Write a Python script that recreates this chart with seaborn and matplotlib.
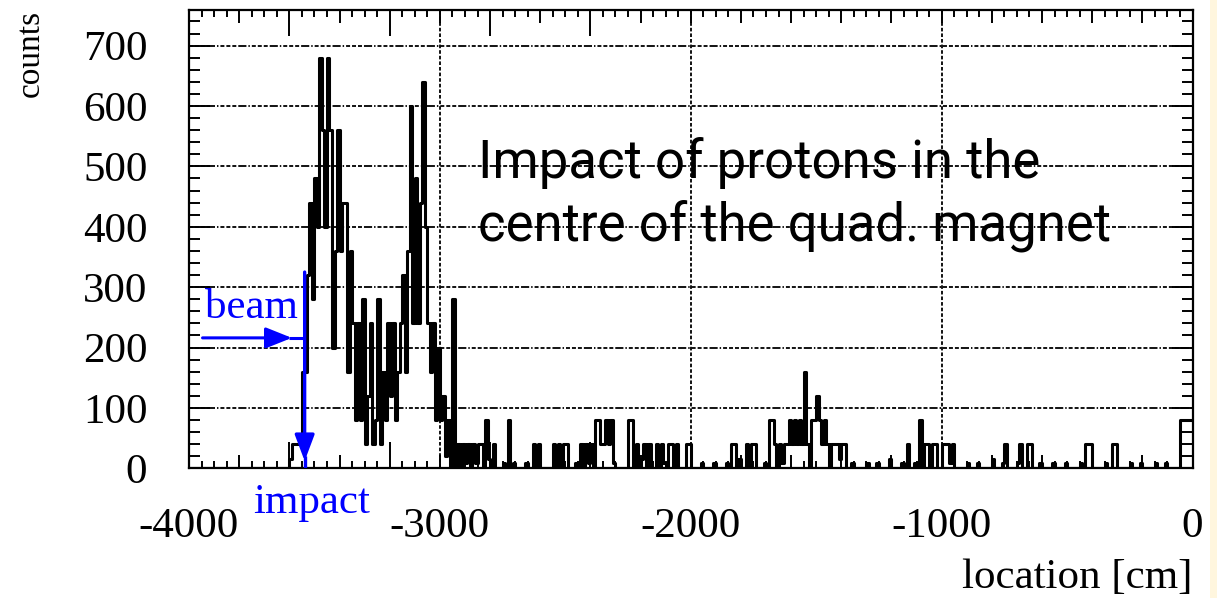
import numpy as np
import pandas as pd
import matplotlib
matplotlib.use("Agg")
import matplotlib.pyplot as plt
import seaborn as sns
from matplotlib.ticker import MultipleLocator, FuncFormatter
from matplotlib.patches import Rectangle

# ---------------- data ----------------
bin_width_cm = 10
x_range_cm = [-4000, 0]

# dense region: consecutive 10 cm bins starting at -3600 cm
peak_start_cm = -3600
peak_counts = [
    16, 40, 40, 40, 40, 160, 160, 320, 440, 280,
    480, 400, 680, 560, 400, 680, 560, 200, 360, 560,
    360, 440, 440, 160, 360, 240, 80, 240, 80, 280,
    40, 120, 240, 40, 80, 280, 40, 160, 80, 240,
    120, 240, 80, 160, 240, 320, 160, 360, 600, 240,
    480, 240, 440, 640, 400, 240, 160, 240, 80, 200,
    80, 120, 20, 80, 0, 280, 0, 40, 0, 40,
    8, 40, 0, 40, 8, 40, 40, 0, 80, 16,
    0, 40,
]

# sparse tail: left edge of each non-empty bin (cm) and its count
tail_loc_cm = [
    -2750, -2730, -2710, -2660, -2630, -2610, -2550, -2530, -2510, -2500,
    -2460, -2440, -2420, -2410, -2400, -2380, -2370, -2360, -2350, -2340,
    -2330, -2320, -2310, -2250, -2240, -2220, -2200, -2190, -2170, -2140,
    -2120, -2110, -2090, -2080, -2060, -2020, -2010, -1960, -1910, -1860,
    -1840, -1830, -1810, -1780, -1760, -1750, -1710, -1690, -1680, -1670,
    -1650, -1640, -1630, -1620, -1610, -1600, -1590, -1580, -1570, -1560,
    -1550, -1540, -1520, -1510, -1500, -1490, -1480, -1470, -1460, -1440,
    -1430, -1420, -1410, -1400, -1390, -1360, -1300, -1260, -1210, -1160,
    -1140, -1110, -1090, -1070, -1060, -1040, -1030, -1000, -990, -980,
    -970, -960, -900, -860, -800, -760, -750, -700, -690, -660,
    -650, -610, -560, -510, -450, -430, -420, -410, -350, -320,
    -310, -250, -210, -150, -110, -50, -40, -30, -20, -10,
]
tail_counts = [
    8, 80, 8, 8, 40, 40, 40, 40, 40, 40,
    8, 40, 40, 8, 40, 80, 80, 40, 40, 80,
    40, 80, 8, 80, 80, 40, 16, 40, 40, 40,
    40, 8, 40, 40, 40, 40, 40, 8, 8, 8,
    40, 40, 16, 40, 40, 40, 8, 80, 80, 40,
    40, 8, 40, 40, 80, 40, 80, 40, 80, 40,
    160, 40, 80, 80, 120, 80, 40, 80, 40, 40,
    40, 40, 16, 40, 40, 8, 8, 8, 16, 8,
    40, 8, 80, 40, 40, 40, 40, 40, 40, 40,
    8, 40, 8, 8, 16, 8, 40, 8, 40, 40,
    40, 8, 8, 8, 8, 40, 40, 40, 8, 40,
    40, 8, 8, 8, 8, 80, 80, 80, 80, 80,
]

x_label_ticks = [-4000, -3000, -2000, -1000, 0]
y_label_ticks = [0, 100, 200, 300, 400, 500, 600, 700]

annotation_lines = ["Impact of protons in the", "centre of the quad. magnet"]
beam_label = "beam"
impact_label = "impact"
beam_level = 216          # counts level of the horizontal "beam" arrow
impact_location = -3539   # cm, position of the vertical "impact" arrow

# ---------------- build histogram table ----------------
edges = np.arange(x_range_cm[0], x_range_cm[1] + bin_width_cm, bin_width_cm)
counts = np.zeros(len(edges) - 1)
i0 = (peak_start_cm - x_range_cm[0]) // bin_width_cm
counts[i0:i0 + len(peak_counts)] = peak_counts
for loc, c in zip(tail_loc_cm, tail_counts):
    counts[(loc - x_range_cm[0]) // bin_width_cm] = c
centers = edges[:-1] + bin_width_cm / 2
df = pd.DataFrame({"location": centers, "counts": counts})

# ---------------- style ----------------
sns.set_theme(style="white")
plt.rcParams["font.family"] = ["Liberation Serif", "DejaVu Serif"]
plt.rcParams["axes.edgecolor"] = "black"

W, H = 1217, 598
fig = plt.figure(figsize=(W / 100, H / 100), dpi=100)
fig.patch.set_facecolor("white")
# pale cream strip at the far right edge of the slide
fig.patches.append(Rectangle((1210 / W, 0), 1 - 1210 / W, 1, transform=fig.transFigure,
                             facecolor="#FFF6DE", edgecolor="none", zorder=0))

ax = fig.add_axes([189 / W, 1 - 468.3 / H, (1192.5 - 189) / W, (468.3 - 10) / H])
ax.set_facecolor("white")

sns.histplot(data=df, x="location", weights="counts", bins=edges.tolist(),
             element="step", fill=False, color="black", linewidth=2.2, ax=ax, zorder=3)

ax.set_xlim(x_range_cm)
ax.set_ylim(0, 759)

# grid lines (ROOT-like dash pattern)
hdash = (0, (2.2, 1.1, 2.2, 1.1, 2.2, 1.1, 4.5, 1.1, 0.8, 1.1))
for yv in y_label_ticks[1:]:
    ax.axhline(yv, color="black", lw=1.3, ls=hdash, zorder=1)
for xv in x_label_ticks[1:-1]:
    ax.axvline(xv, color="black", lw=1.3, ls=(0, (2.0, 1.1)), zorder=1)

# ticks
ax.xaxis.set_major_locator(MultipleLocator(200))
ax.xaxis.set_minor_locator(MultipleLocator(50))
ax.xaxis.set_major_formatter(FuncFormatter(
    lambda v, p: f"{int(round(v))}" if abs(v) % 1000 < 1e-6 else ""))
ax.yaxis.set_major_locator(MultipleLocator(100))
ax.yaxis.set_minor_locator(MultipleLocator(20))
ax.tick_params(axis="both", which="both", direction="in", top=True, right=True,
               bottom=True, left=True, color="black", width=1.4, labelsize=31,
               labelcolor="black")
ax.tick_params(axis="x", which="major", length=9.5, pad=28)
ax.tick_params(axis="x", which="minor", length=4.7)
ax.tick_params(axis="y", which="major", length=15, pad=30)
ax.tick_params(axis="y", which="minor", length=7.7)
for t in ax.xaxis.get_major_ticks():
    if abs(t.get_loc()) % 1000 < 1e-6:
        t.tick1line.set_markersize(19)
        t.tick2line.set_markersize(19)

for sp in ax.spines.values():
    sp.set_visible(True)
    sp.set_color("black")
    sp.set_linewidth(1.6)
    sp.set_zorder(5)

# axis titles
ax.set_xlabel("location [cm]", fontsize=31, color="black")
ax.xaxis.set_label_coords(1.0, (468.3 - 578) / 458.3)
ax.xaxis.label.set_ha("right")
ax.xaxis.label.set_va("center")
ax.set_ylabel("counts", fontsize=24, color="black")
ax.yaxis.label.set_rotation_mode("default")
ax.yaxis.label.set_ha("center")
ax.yaxis.label.set_va("top")
ax.yaxis.set_label_coords((31 - 189) / 1003.5, 1.0)

# annotation text (sans serif, black)
ax.text(-2850, 481, annotation_lines[0], fontsize=38, family=["Roboto", "DejaVu Sans"],
        ha="left", va="baseline", color="black", zorder=6)
ax.text(-2850, 378, annotation_lines[1], fontsize=38, family=["Roboto", "DejaVu Sans"],
        ha="left", va="baseline", color="black", zorder=6)

# blue beam / impact arrows
blue = "#0000FF"
ax.annotate("", xy=(-3590, beam_level), xytext=(-3946, beam_level),
            arrowprops=dict(arrowstyle="-|>,head_length=0.8,head_width=0.32",
                            mutation_scale=20, color=blue, lw=2.2, shrinkA=0, shrinkB=0),
            zorder=7)
ax.plot([-3600, impact_location], [beam_level, beam_level], color=blue, lw=2.2, zorder=7,
        solid_capstyle="butt")
ax.annotate("", xy=(impact_location, 12), xytext=(impact_location, 325),
            arrowprops=dict(arrowstyle="-|>,head_length=0.8,head_width=0.3",
                            mutation_scale=20, color=blue, lw=2.4, shrinkA=0, shrinkB=0),
            zorder=7)
ax.plot([impact_location, impact_location], [0, 20], color=blue, lw=2.4, zorder=7,
        solid_capstyle="butt")
ax.text(-3938, 249, beam_label, fontsize=31, color=blue, ha="left", va="baseline", zorder=7)
ax.text(-3511, (468.3 - 513) / 458.3, impact_label, fontsize=31, color=blue,
        ha="center", va="baseline", transform=ax.get_xaxis_transform(), zorder=7)

fig.savefig("out.png", dpi=100)
